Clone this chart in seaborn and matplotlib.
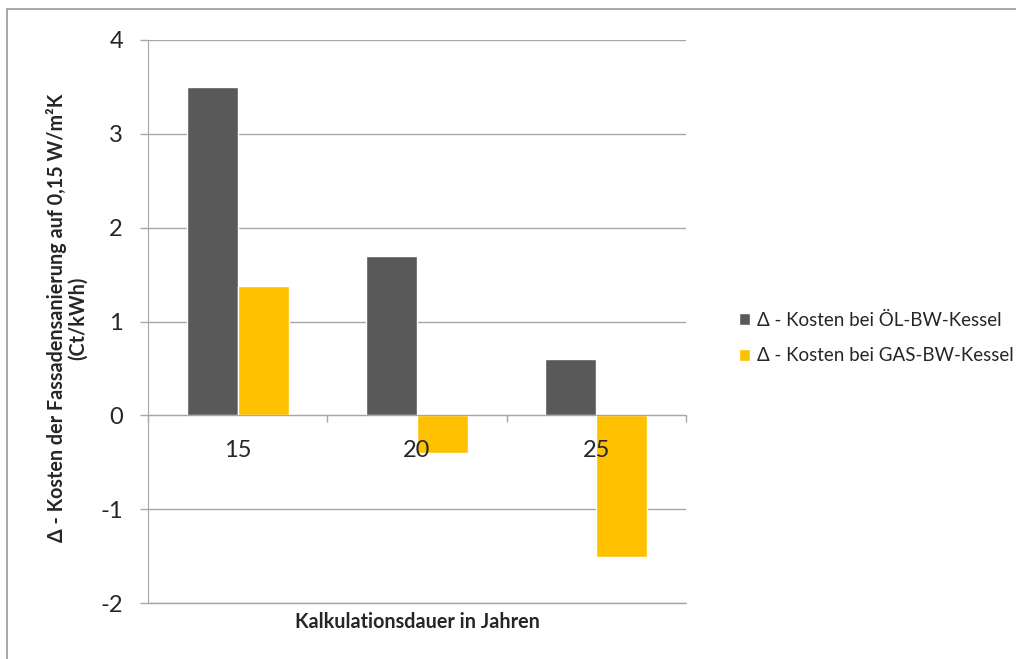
import matplotlib
matplotlib.use("Agg")
import matplotlib.pyplot as plt
import seaborn as sns
import pandas as pd
from matplotlib.lines import Line2D
from matplotlib.ticker import FixedLocator

years = ["15", "20", "25"]
oel = [3.5, 1.7, 0.6]
gas = [1.38, -0.4, -1.51]
series_names = ["Δ - Kosten bei ÖL-BW-Kessel", "Δ - Kosten bei GAS-BW-Kessel"]
colors = ["#595959", "#FFC000"]
y_ticks = [-2, -1, 0, 1, 2, 3, 4]

df = pd.DataFrame({
    "Jahr": years * 2,
    "Wert": oel + gas,
    "Serie": [series_names[0]] * 3 + [series_names[1]] * 3,
})

sns.set_style("white")
plt.rcParams["font.family"] = ["Lato", "DejaVu Sans"]

fig = plt.figure(figsize=(10.16, 6.59), dpi=100)
ax = fig.add_axes([148 / 1016, 1 - 603 / 659, (686 - 148) / 1016, (603 - 40) / 659])

sns.barplot(data=df, x="Jahr", y="Wert", hue="Serie", palette=colors,
            width=0.57, ax=ax, saturation=1, errorbar=None, zorder=3)

ax.set_ylim(-2, 4)
ax.set_xlim(-0.5, 2.5)
ax.set_yticks(y_ticks)
ax.set_yticklabels([str(t) for t in y_ticks], fontsize=17)
ax.yaxis.grid(True, color="#A6A6A6", linewidth=1, zorder=0)
ax.set_axisbelow(True)
ax.tick_params(axis="y", length=6, color="#A6A6A6", width=1, pad=12, left=True)

for s in ["top", "right"]:
    ax.spines[s].set_visible(False)
ax.spines["left"].set_color("#A6A6A6")
ax.spines["bottom"].set_color("#A6A6A6")
ax.spines["bottom"].set_position(("data", 0))
ax.spines["bottom"].set_zorder(4)

ax.xaxis.set_minor_locator(FixedLocator([-0.5, 0.5, 1.5, 2.5]))
ax.tick_params(axis="x", which="major", length=0, labelbottom=False)
ax.tick_params(axis="x", which="minor", length=5, color="#A6A6A6", width=1, bottom=True)

# category labels drawn above the bars (as in the reference)
for i, lab in enumerate(years):
    ax.annotate(lab, xy=(i, 0), xytext=(0, -35), textcoords="offset pixels",
                ha="center", va="center", fontsize=17, zorder=10)

ax.axhline(-2, color="#A6A6A6", linewidth=1, clip_on=False, zorder=1)

ax.set_xlabel("")
ax.set_ylabel("")
fig.text(417 / 1016, 1 - 622 / 659, "Kalkulationsdauer in Jahren", ha="center", va="center",
         fontsize=14.2, fontweight="bold")
fig.text(67 / 1016, 1 - 318 / 659,
         "Δ - Kosten der Fassadensanierung auf 0,15 W/m²K\n(Ct/kWh)",
         ha="center", va="center", rotation=90, fontsize=14.2, fontweight="bold",
         linespacing=1.1)

handles, labels = ax.get_legend_handles_labels()
ax.legend(handles, labels, loc="center left", bbox_to_anchor=(722 / 1016, 1 - 338 / 659),
          bbox_transform=fig.transFigure, frameon=False, fontsize=13.5,
          handlelength=0.6, handleheight=0.6, handletextpad=0.35, labelspacing=1.0)

fig.add_artist(Line2D([7 / 1016, 1.0], [1 - 9 / 659, 1 - 9 / 659], transform=fig.transFigure,
                      color="#9A9A9A", linewidth=1.2))
fig.add_artist(Line2D([7 / 1016, 7 / 1016], [0, 1 - 9 / 659], transform=fig.transFigure,
                      color="#9A9A9A", linewidth=1.2))

fig.savefig("out.png", dpi=100)
